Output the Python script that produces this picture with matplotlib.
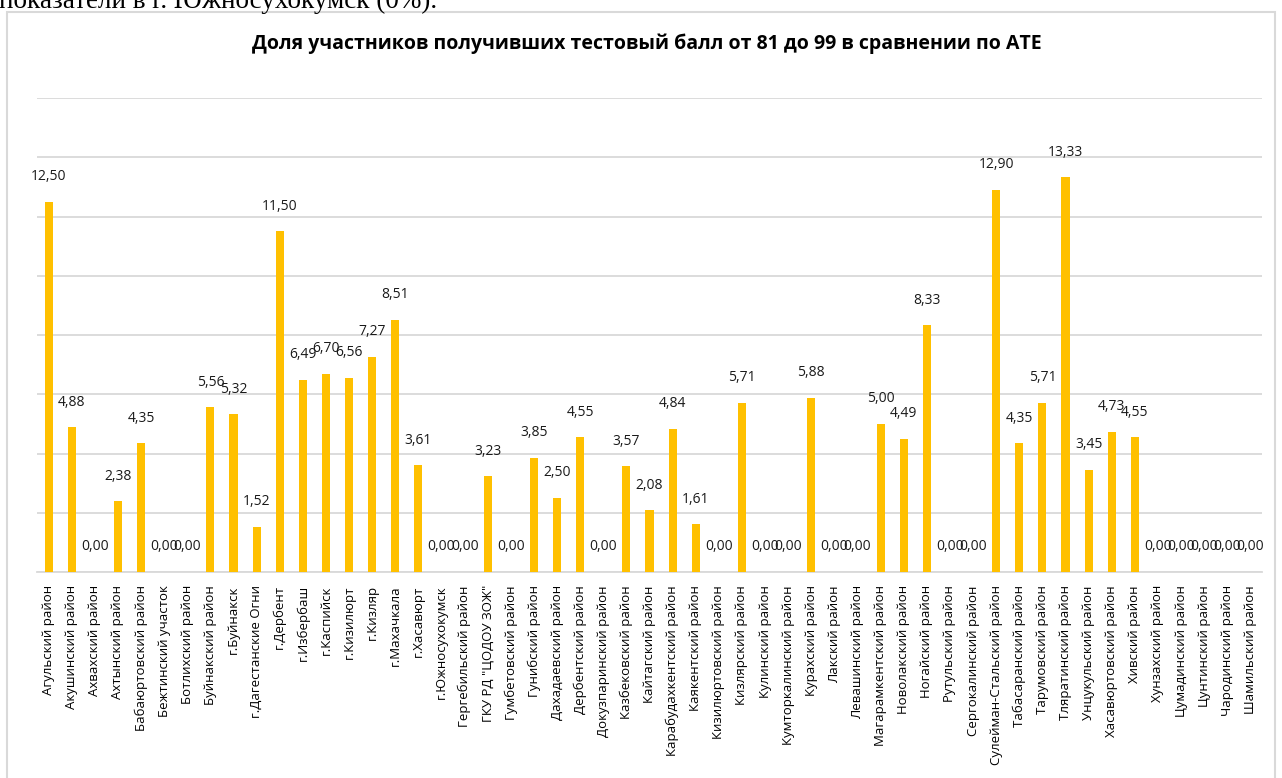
import matplotlib
matplotlib.use("Agg")
import matplotlib.pyplot as plt
from matplotlib.patches import Rectangle

categories = [
    "Агульский район", "Акушинский район", "Ахвахский район", "Ахтынский район",
    "Бабаюртовский район", "Бежтинский участок", "Ботлихский район", "Буйнакский район",
    "г.Буйнакск", "г.Дагестанские Огни", "г.Дербент", "г.Избербаш", "г.Каспийск",
    "г.Кизилюрт", "г.Кизляр", "г.Махачкала", "г.Хасавюрт", "г.Южносухокумск",
    "Гергебильский район", "ГКУ РД \"ЦОДОУ ЗОЖ\"", "Гумбетовский район", "Гунибский район",
    "Дахадаевский район", "Дербентский район", "Докузпаринский район", "Казбековский район",
    "Кайтагский район", "Карабудахкентский район", "Каякентский район", "Кизилюртовский район",
    "Кизлярский район", "Кулинский район", "Кумторкалинский район", "Курахский район",
    "Лакский район", "Левашинский район", "Магарамкентский район", "Новолакский район",
    "Ногайский район", "Рутульский район", "Сергокалинский район", "Сулейман-Стальский район",
    "Табасаранский район", "Тарумовский район", "Тляратинский район", "Унцукульский район",
    "Хасавюртовский район", "Хивский район", "Хунзахский район", "Цумадинский район",
    "Цунтинский район", "Чародинский район", "Шамильский район",
]
values = [
    12.50, 4.88, 0.00, 2.38, 4.35, 0.00, 0.00, 5.56, 5.32, 1.52, 11.50, 6.49, 6.70,
    6.56, 7.27, 8.51, 3.61, 0.00, 0.00, 3.23, 0.00, 3.85, 2.50, 4.55, 0.00, 3.57,
    2.08, 4.84, 1.61, 0.00, 5.71, 0.00, 0.00, 5.88, 0.00, 0.00, 5.00, 4.49, 8.33,
    0.00, 0.00, 12.90, 4.35, 5.71, 13.33, 3.45, 4.73, 4.55, 0.00, 0.00, 0.00, 0.00, 0.00,
]
title = "Доля участников получивших тестовый балл от 81 до 99 в сравнении по АТЕ"
above_text = "показатели в г. Южносухокумск (0%)."

W, H = 1282, 778
fig = plt.figure(figsize=(W / 100, H / 100), dpi=100)
fig.patch.set_facecolor("white")

# chart border
fig.patches.append(Rectangle((7 / W, -0.01), (1275 - 7) / W, 1 - 12 / H + 0.01,
                             transform=fig.transFigure, fill=False,
                             edgecolor="#d9d9d9", linewidth=1.5))
# cropped document text above the chart
fig.text(-1 / W, 1 - 8 / H, above_text, fontsize=19.5, family="Liberation Serif",
         va="baseline", ha="left", color="black")

ax = fig.add_axes([37 / W, 1 - 572 / H, (1262 - 37) / W, (572 - 98) / H])
x = list(range(len(categories)))
ax.bar(x, values, width=0.35, color="#ffc000", zorder=3)
ax.set_xlim(-0.5, len(categories) - 0.5)
ax.set_ylim(0, 16)
ax.set_yticks(range(0, 17, 2))
ax.yaxis.grid(True, color="#d9d9d9", linewidth=1.3, zorder=0)
ax.tick_params(axis="y", left=False, labelleft=False)
ax.tick_params(axis="x", bottom=False, pad=6)
for s in ["top", "right", "left"]:
    ax.spines[s].set_visible(False)
ax.spines["bottom"].set_color("#d9d9d9")
ax.spines["bottom"].set_linewidth(1.3)
ax.set_xticks(x)
ax.set_xticklabels(categories, rotation=90, fontsize=9.5, family="Open Sans",
                   va="top", ha="center")

for xi, v in zip(x, values):
    ax.annotate(f"{v:.2f}".replace(".", ","), (xi, v), xytext=(0, 18),
                textcoords="offset points", ha="center", va="center",
                fontsize=10, family="Open Sans", color="#1a1a1a")

fig.text(647 / W, 1 - 44 / H, title, ha="center", va="center", fontsize=14,
         fontweight="bold", family="Open Sans", color="black")

fig.savefig("out.png", dpi=100, facecolor="white")
